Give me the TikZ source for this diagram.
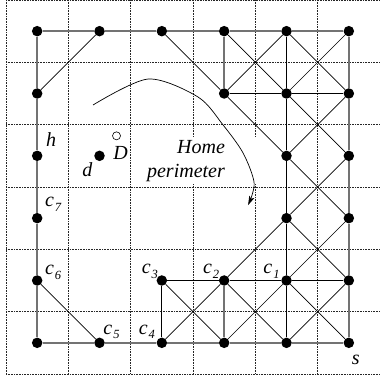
\documentclass[tikz,border=0pt]{standalone}
\usepackage{fontspec}
\setmainfont{Liberation Serif}
\usetikzlibrary{arrows.meta,calc}

\newcommand{\clab}[1]{c\kern1pt\raisebox{-4.5pt}{\fontsize{12.5}{12.5}\selectfont #1}}

\begin{document}
\begin{tikzpicture}[
      x=62.3pt, y=-62.3pt,
      >={Stealth[length=9pt,width=5.5pt,inset=2pt]},
      every node/.style={font=\fontsize{20}{24}\selectfont\itshape},
      dot/.style={circle, fill=black, inner sep=0pt, minimum size=10.5pt},
      hollow/.style={circle, draw, line width=0.6pt, inner sep=0pt, minimum size=8pt},
      gridline/.style={densely dotted, line width=0.6pt, black!85},
      perim/.style={line width=1.4pt, black!55},
      link/.style={line width=0.7pt, black},
      tag/.style={inner sep=0pt}
]
\useasboundingbox (-0.0963,0) rectangle (6.0,6.083);

% dotted cells
\foreach \k in {0,...,5}
      \draw[gridline] (\k,0) -- (\k,6);
\foreach \k in {0,...,6}
      \draw[gridline] (0,\k) -- (6,\k);

% backing of the home perimeter text
\fill[white] (2.15,2.2) rectangle (4.05,2.94);

% nodes, v<column><row>
\foreach \i/\j in {0/0,1/0,2/0,3/0,4/0,5/0, 0/1,3/1,4/1,5/1, 0/2,1/2,4/2,5/2,
      0/3,4/3,5/3, 0/4,2/4,3/4,4/4,5/4, 0/5,1/5,2/5,3/5,4/5,5/5}
      \node[dot] (v\i\j) at (\i+0.5,\j+0.5) {};

\draw[perim] (v00) -- (v10) -- (v20) -- (v30) -- (v40) -- (v50);
\draw[perim] (v00) -- (v01) -- (v02) -- (v03) -- (v04) -- (v05);
\draw[perim] (v05) -- (v15) -- (v25) -- (v35) -- (v45) -- (v55);
\draw[perim] (v50) -- (v51) -- (v52) -- (v53) -- (v54) -- (v55);
\draw[perim] (v30) -- (v31);
\draw[perim] (v34) -- (v35);

\draw[link] (v10) -- (v01);
\draw[link] (v04) -- (v15);
\draw[link] (v20) -- (v31) -- (v42) -- (v53);
\draw[link] (v30) -- (v41);
\draw[link] (v40) -- (v31);
\draw[link] (v40) -- (v51);
\draw[link] (v50) -- (v41);
\draw[link] (v31) -- (v41) -- (v51);
\draw[link] (v40) -- (v41) -- (v42) -- (v43) -- (v44) -- (v45);
\draw[link] (v41) -- (v52);
\draw[link] (v51) -- (v42);
\draw[link] (v52) -- (v43) -- (v34) -- (v25);
\draw[link] (v43) -- (v54);
\draw[link] (v53) -- (v44);
\draw[link] (v24) -- (v34) -- (v44) -- (v54);
\draw[link] (v24) -- (v25);
\draw[link] (v24) -- (v35);
\draw[link] (v34) -- (v45);
\draw[link] (v44) -- (v35);
\draw[link] (v44) -- (v55);
\draw[link] (v54) -- (v45);

% labels
\node[tag] (h) at ([shift={(14pt,16pt)}]v02) {h};
\node[tag] (d) at ([shift={(-12pt,-14pt)}]v12) {d};
\node[tag] (D) at ([shift={(21pt,3pt)}]v12) {D};
\node[hollow] (Dmark) at ([shift={(17pt,20pt)}]v12) {};
\node[tag] (c7) at ([shift={(16pt,14pt)}]v03) {\clab{7}};
\node[tag] (c6) at ([shift={(16pt,8pt)}]v04) {\clab{6}};
\node[tag] (c5) at ([shift={(12pt,11pt)}]v15) {\clab{5}};
\node[tag] (c4) at ([shift={(-15pt,11pt)}]v25) {\clab{4}};
\node[tag] (c3) at ([shift={(-12pt,9pt)}]v24) {\clab{3}};
\node[tag] (c2) at ([shift={(-13pt,9pt)}]v34) {\clab{2}};
\node[tag] (c1) at ([shift={(-15pt,9pt)}]v44) {\clab{1}};
\node[tag] (s) at ([shift={(7pt,-17pt)}]v55) {s};

\node[tag, align=right, anchor=east] (home) at (3.515,2.584) {Home\\perimeter};
\draw[line width=0.7pt, ->] plot[smooth] coordinates {(1.396,1.685) (2.279,1.268)
      (3.082,1.557) (3.483,2.006) (3.804,2.456) (3.981,2.937) (3.884,3.290)};
\end{tikzpicture}
\end{document}
